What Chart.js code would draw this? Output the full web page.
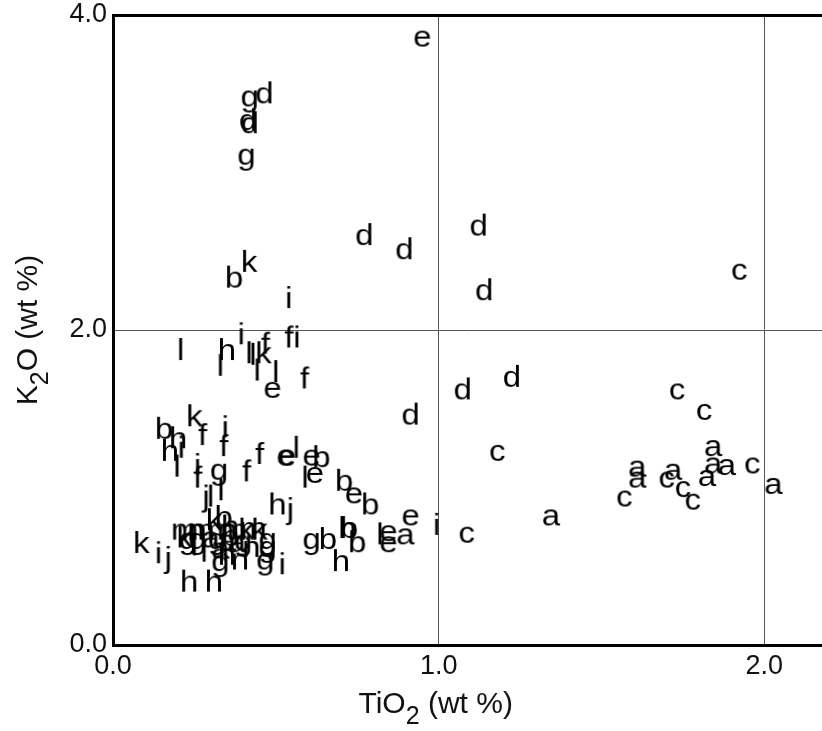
<!DOCTYPE html>
<html><head><meta charset="utf-8">
<script src="https://cdn.jsdelivr.net/npm/chart.js@4.4.1/dist/chart.umd.min.js"></script>
<style>html,body{margin:0;padding:0;background:#fff;overflow:hidden}</style>
</head><body>
<canvas id="c" width="822" height="731"></canvas>
<script>
// ---- data ----
const xTicks = [0, 1, 2];
const yTicks = [0, 2, 4];
const xTitleParts = ['TiO', '2', ' (wt %)'];
const yTitleParts = ['K', '2', 'O (wt %)'];
const letters = ['a','b','c','d','e','f','g','h','i','j','k','l','m','n'];

const a_pts = [[1.345,0.81],[0.898,0.69],[1.61,1.12],[1.61,1.05],[1.72,1.10],[1.843,1.25],[1.843,1.14],[1.885,1.13],[1.824,1.06],[2.028,1.01],[0.30,0.67],[0.35,0.65],[0.38,0.64],[0.33,0.60]];
const b_pts = [[0.372,2.32],[0.157,1.36],[0.64,1.18],[0.71,1.03],[0.79,0.88],[0.66,0.66],[0.725,0.73],[0.75,0.64],[0.34,0.80],[0.36,0.68]];
const c_pts = [[1.923,2.37],[1.732,1.61],[1.815,1.48],[1.18,1.22],[1.086,0.70],[1.963,1.14],[1.57,0.93],[1.70,1.05],[1.75,0.99],[1.78,0.91]];
const d_pts = [[0.465,3.49],[0.415,3.32],[0.42,3.30],[0.772,2.59],[0.895,2.50],[1.123,2.65],[1.14,2.24],[0.914,1.45],[1.074,1.61],[1.225,1.69]];
const e_pts = [[0.95,3.85],[0.49,1.62],[0.53,1.19],[0.535,1.19],[0.61,1.19],[0.62,1.08],[0.74,0.95],[0.914,0.81],[0.846,0.71],[0.846,0.64]];
const f_pts = [[0.54,1.94],[0.468,1.90],[0.588,1.68],[0.275,1.32],[0.34,1.25],[0.26,1.05],[0.41,1.09],[0.45,1.20]];
const g_pts = [[0.42,3.47],[0.41,3.10],[0.326,1.10],[0.61,0.66],[0.475,0.61],[0.475,0.66],[0.468,0.53],[0.33,0.52],[0.26,0.66],[0.32,0.66],[0.40,0.65],[0.23,0.66]];
const h_pts = [[0.35,1.86],[0.175,1.22],[0.20,1.30],[0.505,0.88],[0.72,0.73],[0.70,0.52],[0.234,0.39],[0.31,0.39],[0.36,0.74]];
const i_pts = [[0.54,2.19],[0.565,1.94],[0.394,1.96],[0.345,1.37],[0.21,1.24],[0.26,1.13],[0.994,0.75],[0.14,0.57],[0.52,0.50],[0.28,0.58]];
const j_pts = [[0.545,0.85],[0.17,0.54],[0.286,0.93]];
const k_pts = [[0.418,2.42],[0.462,1.84],[0.25,1.44],[0.087,0.635],[0.45,0.72],[0.31,0.78],[0.41,0.72],[0.22,0.67]];
const l_pts = [[0.208,1.86],[0.33,1.76],[0.418,1.84],[0.43,1.83],[0.443,1.73],[0.50,1.72],[0.197,1.12],[0.332,0.97],[0.563,1.24],[0.59,1.05],[0.82,0.69],[0.30,0.93],[0.25,0.62]];
const m_pts = [[0.22,0.72],[0.27,0.72],[0.33,0.72],[0.37,0.72],[0.43,0.73]];
const n_pts = [[0.425,0.61],[0.39,0.53],[0.35,0.56],[0.26,0.72]];

const groups = {a:a_pts,b:b_pts,c:c_pts,d:d_pts,e:e_pts,f:f_pts,g:g_pts,h:h_pts,i:i_pts,j:j_pts,k:k_pts,l:l_pts,m:m_pts,n:n_pts};

// ---- styling ----
const FAM = '"Liberation Sans", Arial, sans-serif';
const LETTER_SIZE = 30;

function letterImage(ch){
  const c = document.createElement('canvas');
  c.width = 40; c.height = 60;
  const g = c.getContext('2d');
  g.fillStyle = '#000';
  g.font = LETTER_SIZE + 'px ' + FAM;
  g.textAlign = 'center';
  g.textBaseline = 'alphabetic';
  g.translate(20, 0);
  g.scale(1.1, 1);
  g.fillText(ch, 0, 30 + 0.26 * LETTER_SIZE);
  return c;
}

const datasets = letters.map(L => ({
  label: L,
  data: groups[L].map(([x, y]) => ({x, y})),
  pointStyle: letterImage(L),
  pointRadius: 10,
  showLine: false
}));

const titlePlugin = {
  id: 'axisTitles',
  afterDraw(chart){
    const ctx = chart.ctx;
    const xs = chart.scales.x, ys = chart.scales.y;
    const big = '30px ' + FAM, small = '25px ' + FAM;
    ctx.save();
    ctx.fillStyle = '#111';
    ctx.textBaseline = 'alphabetic';
    ctx.textAlign = 'left';
    // x title
    ctx.font = big; const w1 = ctx.measureText(xTitleParts[0]).width, w3 = ctx.measureText(xTitleParts[2]).width;
    ctx.font = small; const w2 = ctx.measureText(xTitleParts[1]).width;
    let sx = xs.getPixelForValue(1.0) - 3 - (w1 + w2 + w3) / 2;
    const by = 713;
    ctx.font = big; ctx.fillText(xTitleParts[0], sx, by);
    ctx.font = small; ctx.fillText(xTitleParts[1], sx + w1, by + 11);
    ctx.font = big; ctx.fillText(xTitleParts[2], sx + w1 + w2, by);
    // y title
    ctx.font = big; const v1 = ctx.measureText(yTitleParts[0]).width, v3 = ctx.measureText(yTitleParts[2]).width;
    ctx.font = small; const v2 = ctx.measureText(yTitleParts[1]).width;
    ctx.translate(37, ys.getPixelForValue(2.0));
    ctx.rotate(-Math.PI / 2);
    let sy = -(v1 + v2 + v3) / 2;
    ctx.font = big; ctx.fillText(yTitleParts[0], sy, 0);
    ctx.font = small; ctx.fillText(yTitleParts[1], sy + v1, 11);
    ctx.font = big; ctx.fillText(yTitleParts[2], sy + v1 + v2, 0);
    ctx.restore();
  }
};

const gridCol = v => (ctx) => (ctx.tick && v.includes(ctx.tick.value)) ? '#555' : 'rgba(0,0,0,0)';
const XMAX = 2.177;

new Chart(document.getElementById('c'), {
  type: 'scatter',
  data: { datasets },
  options: {
    responsive: false,
    animation: false,
    devicePixelRatio: 1,
    layout: { autoPadding: false, padding: { top: 15, left: 0, right: 0, bottom: 0 } },
    plugins: { legend: { display: false }, tooltip: { enabled: false } },
    scales: {
      x: {
        type: 'linear', position: 'bottom', min: 0, max: XMAX,
        afterBuildTicks: s => { s.ticks = xTicks.map(v => ({value: v})); },
        afterFit: s => { s.height = 86; s.paddingLeft = 0; s.paddingRight = 0; },
        ticks: { font: { family: FAM, size: 27 }, color: '#111', padding: 5, maxRotation: 0, autoSkip: false,
                 callback: v => Number(v).toFixed(1) },
        grid: { color: gridCol([1, 2]), lineWidth: 1, drawTicks: false },
        border: { color: '#000', width: 3 }
      },
      x2: {
        type: 'linear', position: 'top', min: 0, max: XMAX,
        afterFit: s => { s.height = 0; s.paddingLeft = 0; s.paddingRight = 0; },
        ticks: { display: false },
        grid: { display: false, drawTicks: false },
        border: { display: true, color: '#000', width: 3 }
      },
      y: {
        type: 'linear', position: 'left', min: 0, max: 4,
        afterBuildTicks: s => { s.ticks = yTicks.map(v => ({value: v})); },
        afterFit: s => { s.width = 113; s.paddingTop = 0; s.paddingBottom = 0; },
        ticks: { font: { family: FAM, size: 27 }, color: '#111', padding: 6,
                 callback: v => Number(v).toFixed(1) },
        grid: { color: gridCol([2]), lineWidth: 1, drawTicks: false },
        border: { color: '#000', width: 3 }
      }
    }
  },
  plugins: [titlePlugin]
});
</script>
</body></html>
